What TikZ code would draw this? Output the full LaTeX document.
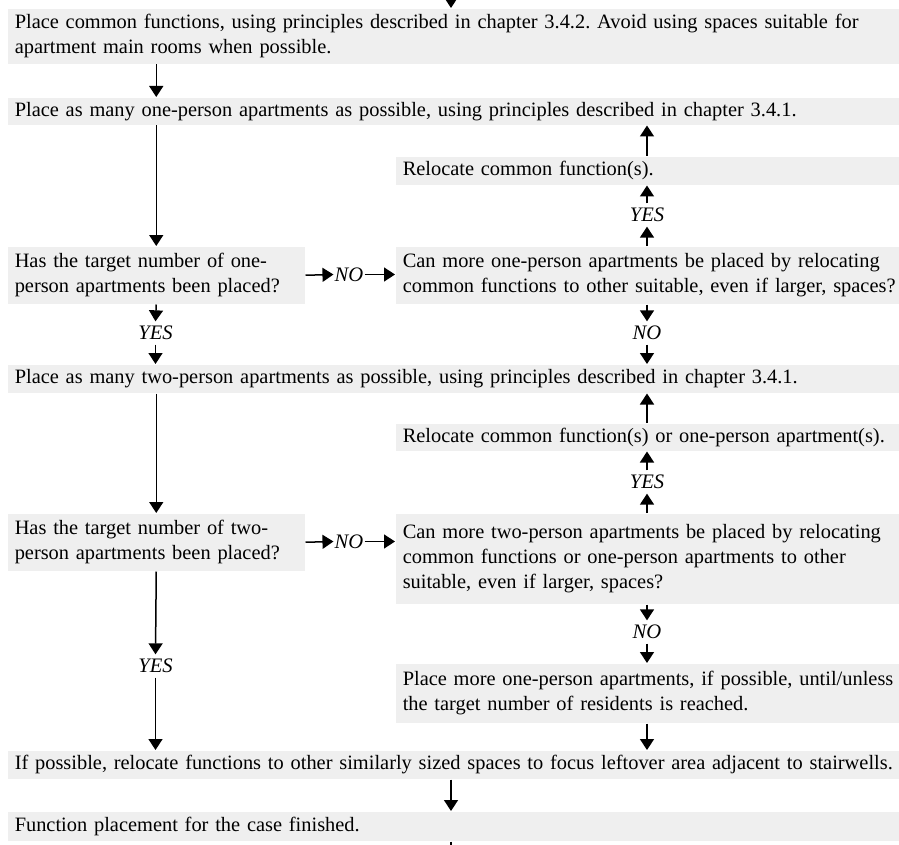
\documentclass[tikz,border=0pt]{standalone}
\usepackage{fontspec}
\setmainfont{Liberation Serif}
\usepackage[dvipsnames]{xcolor}
\usetikzlibrary{arrows.meta}
\definecolor{boxgray}{HTML}{EFEFEF}

\begin{document}
\frenchspacing
\begin{tikzpicture}[x=1pt,y=-1pt,>={Triangle[width=14pt,length=11pt]},line width=1.5pt,
    box/.style={fill=boxgray,anchor=north west,align=left,inner xsep=7pt,inner ysep=0pt,font=\fontsize{20.4}{25}\selectfont},
    wide/.style={box,text width=940pt},
    half/.style={box,text width=540pt},
    small/.style={box,text width=283pt},
    lbl/.style={font=\fontsize{20.6}{25}\selectfont\itshape,inner xsep=0.5pt,inner ysep=4pt}]

            \useasboundingbox (0,0) rectangle (899,845);

            % columns of the arrows
            \coordinate (mid) at (451,0);
            \coordinate (right) at (647,0);

            % boxes
            \node[wide,minimum height=55pt] (fn) at (7,8) {Place common functions, using principles described in chapter 3.4.2. Avoid using spaces suitable for\\apartment main rooms when possible.};
            \node[wide,minimum height=27pt] (one) at (7,97) {Place as many one-person apartments as possible, using principles described in chapter 3.4.1.};
            \node[half,minimum height=28pt] (relone) at (395,156) {Relocate common function(s).};
            \node[small,minimum height=57pt] (askone) at (7,246) {Has the target number of one-\\person apartments been placed?};
            \node[half,minimum height=57pt] (moreone) at (395,246) {Can more one-person apartments be placed by relocating\\common functions to other suitable, even if larger, spaces?};
            \node[wide,minimum height=28pt] (two) at (7,364) {Place as many two-person apartments as possible, using principles described in chapter 3.4.1.};
            \node[half,minimum height=27pt] (reltwo) at (395,423) {Relocate common function(s) or one-person apartment(s).};
            \node[small,minimum height=57pt] (asktwo) at (7,513) {Has the target number of two-\\person apartments been placed?};
            \node[half,minimum height=90pt] (moretwo) at (395,513) {Can more two-person apartments be placed by relocating\\common functions or one-person apartments to other\\suitable, even if larger, spaces?};
            \node[half,minimum height=59pt] (fill) at (395,663) {Place more one-person apartments, if possible, until/unless\\the target number of residents is reached.};
            \node[wide,minimum height=28pt] (stair) at (7,750) {If possible, relocate functions to other similarly sized spaces to focus leftover area adjacent to stairwells.};
            \node[wide,minimum height=29pt] (done) at (7,811) {Function placement for the case finished.};

            % labels
            \node[lbl] (noone) at (349,274.5) {NO};
            \node[lbl] (yesone) at (155.5,333) {YES};
            \node[lbl] (noonedown) at (647,333) {NO};
            \node[lbl] (yesoneup) at (647,215) {YES};
            \node[lbl] (notwo) at (349,541.5) {NO};
            \node[lbl] (yestwoup) at (647,482) {YES};
            \node[lbl] (notwodown) at (647,632) {NO};
            \node[lbl] (yestwo) at (155.5,666) {YES};

            \coordinate (in) at (451,-12);
            \coordinate (out) at (451,860);

            \draw[->] (in) to (in |- fn.north);
            \draw[->] (fn.south -| askone.north) to (askone.north |- one.north);
            \draw[->] (askone.north |- one.south) to (askone.north);
            \draw[->] (relone.north -| right) to (right |- one.south);
            \draw[->] (yesoneup.north) to (relone.south -| right);
            \draw[->] (moreone.north -| right) to (yesoneup.south);
            \draw[->] (askone.east) to (noone.west);
            \draw[->] (noone.east) to (noone.east -| moreone.west);
            \draw[->] (askone.south) to (yesone.north);
            \draw[->] (yesone.south) to (yesone.south |- two.north);
            \draw[->] (moreone.south -| right) to (noonedown.north);
            \draw[->] (noonedown.south) to (noonedown.south |- two.north);
            \draw[->] (asktwo.north |- two.south) to (asktwo.north);
            \draw[->] (reltwo.north -| right) to (right |- two.south);
            \draw[->] (yestwoup.north) to (reltwo.south -| right);
            \draw[->] (moretwo.north -| right) to (yestwoup.south);
            \draw[->] (asktwo.east) to (notwo.west);
            \draw[->] (notwo.east) to (notwo.east -| moretwo.west);
            \draw[->] (moretwo.south -| right) to (notwodown.north);
            \draw[->] (notwodown.south) to (fill.north -| right);
            \draw[->] (asktwo.south) to (yestwo.north);
            \draw[->] (yestwo.south) to (yestwo.south |- stair.north);
            \draw[->] (fill.south -| right) to (right |- stair.north);
            \draw[->] (stair.south -| mid) to (done.north -| mid);
            \draw (done.south -| mid) to (out);
\end{tikzpicture}
\end{document}
